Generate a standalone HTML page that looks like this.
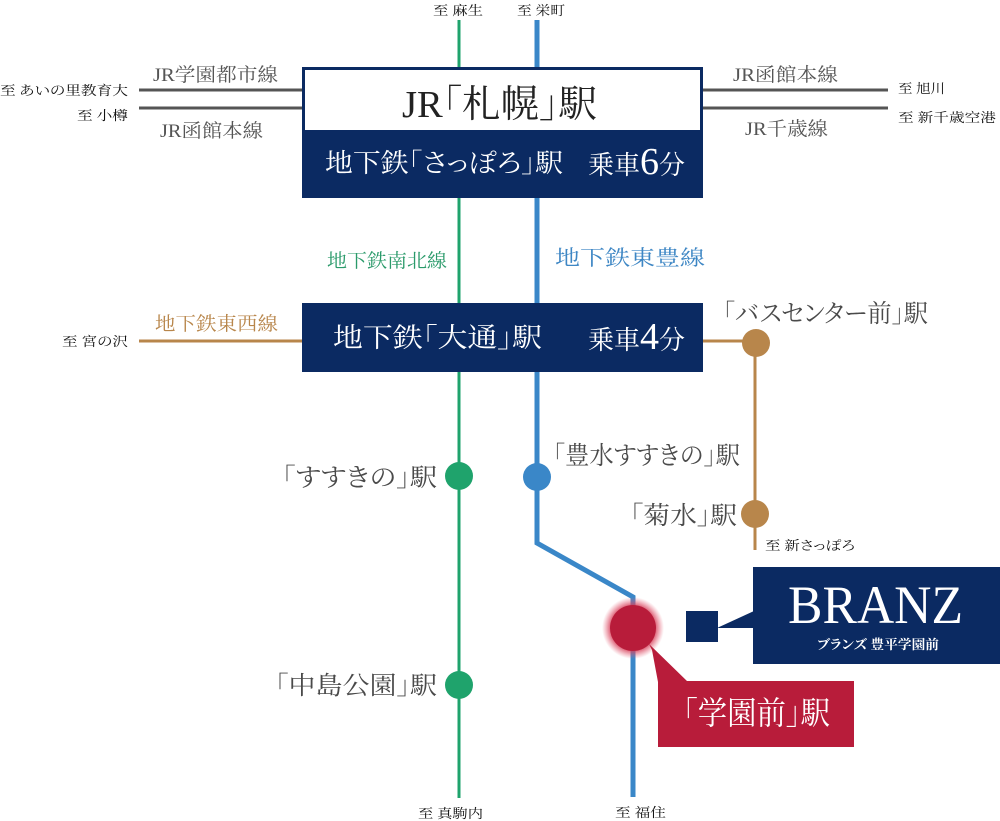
<!DOCTYPE html>
<html><head><meta charset="utf-8"><style>
html,body{margin:0;padding:0;background:#fff;}
svg{display:block;}
text{font-family:"Liberation Serif","Noto Serif CJK SC",serif;font-feature-settings:"palt";}
</style></head><body>
<svg width="1000" height="821" viewBox="0 0 1000 821" xmlns="http://www.w3.org/2000/svg">
<defs>
<radialGradient id="glow" cx="50%" cy="50%" r="50%">
<stop offset="0.7" stop-color="#d43a55" stop-opacity="0.9"/>
<stop offset="1" stop-color="#e8677c" stop-opacity="0"/>
</radialGradient>
</defs>
<!-- lines -->
<line x1="459" y1="20" x2="459" y2="798" stroke="#1fa36c" stroke-width="3"/>
<path d="M537 20 V543 L633 597 V797" fill="none" stroke="#3a87c8" stroke-width="5"/>
<g stroke="#555" stroke-width="3">
<line x1="139" y1="90" x2="302" y2="90"/>
<line x1="139" y1="108" x2="302" y2="108"/>
<line x1="703" y1="90" x2="888" y2="90"/>
<line x1="703" y1="108" x2="888" y2="108"/>
</g>
<g stroke="#b8864b" stroke-width="3" fill="none">
<line x1="139" y1="341" x2="302" y2="341"/>
<line x1="703" y1="341" x2="756" y2="341"/>
<line x1="755" y1="343" x2="755" y2="550"/>
</g>

<!-- JR box -->
<rect x="302" y="67" width="401" height="131" fill="#0b2a62"/>
<rect x="305" y="70" width="395" height="60" fill="#fff"/>
<text x="402" y="117" font-size="38" fill="#222" textLength="195" lengthAdjust="spacingAndGlyphs">JR「札幌」駅</text>
<text x="325" y="172" font-size="26" fill="#fff" textLength="238" lengthAdjust="spacingAndGlyphs">地下鉄「さっぽろ」駅</text>
<text x="588" y="174" font-size="26" fill="#fff">乗車<tspan font-size="38">6</tspan>分</text>

<!-- Odori box -->
<rect x="302" y="303" width="401" height="69" fill="#0b2a62"/>
<text x="333" y="347" font-size="27" fill="#fff" textLength="209" lengthAdjust="spacingAndGlyphs">地下鉄「大通」駅</text>
<text x="588" y="349" font-size="26" fill="#fff">乗車<tspan font-size="38">4</tspan>分</text>

<!-- top/bottom labels -->
<g font-size="13" fill="#111">
<text x="433" y="15" textLength="50" lengthAdjust="spacingAndGlyphs">至 麻生</text>
<text x="517" y="15" textLength="48" lengthAdjust="spacingAndGlyphs">至 栄町</text>
<text x="0" y="95" textLength="128" lengthAdjust="spacingAndGlyphs">至 あいの里教育大</text>
<text x="77" y="120" textLength="51" lengthAdjust="spacingAndGlyphs">至 小樽</text>
<text x="898" y="93" textLength="47" lengthAdjust="spacingAndGlyphs">至 旭川</text>
<text x="898" y="122" textLength="98" lengthAdjust="spacingAndGlyphs">至 新千歳空港</text>
<text x="62" y="346" textLength="66" lengthAdjust="spacingAndGlyphs">至 宮の沢</text>
<text x="765" y="550" textLength="90" lengthAdjust="spacingAndGlyphs">至 新さっぽろ</text>
<text x="418" y="818" textLength="65" lengthAdjust="spacingAndGlyphs">至 真駒内</text>
<text x="615" y="817" textLength="51" lengthAdjust="spacingAndGlyphs">至 福住</text>
</g>

<!-- line names -->
<g font-size="19" fill="#555">
<text x="153" y="81" textLength="125" lengthAdjust="spacingAndGlyphs">JR学園都市線</text>
<text x="160" y="137" textLength="103" lengthAdjust="spacingAndGlyphs">JR函館本線</text>
<text x="733" y="81" textLength="105" lengthAdjust="spacingAndGlyphs">JR函館本線</text>
<text x="745" y="135" textLength="83" lengthAdjust="spacingAndGlyphs">JR千歳線</text>
</g>
<text x="327" y="267" font-size="19" fill="#2a9a6a" textLength="120" lengthAdjust="spacingAndGlyphs">地下鉄南北線</text>
<text x="555" y="265" font-size="21" fill="#3d86c4" textLength="150" lengthAdjust="spacingAndGlyphs">地下鉄東豊線</text>
<text x="155" y="330" font-size="19" fill="#b8864b" textLength="123" lengthAdjust="spacingAndGlyphs">地下鉄東西線</text>

<!-- station labels -->
<g font-size="25" fill="#4a4a4a">
<text x="282" y="486" textLength="155" lengthAdjust="spacingAndGlyphs">「すすきの」駅</text>
<text x="723" y="322" textLength="205" lengthAdjust="spacingAndGlyphs">「バスセンター前」駅</text>
<text x="553" y="464" textLength="187" lengthAdjust="spacingAndGlyphs">「豊水すすきの」駅</text>
<text x="630" y="524" textLength="107" lengthAdjust="spacingAndGlyphs">「菊水」駅</text>
<text x="275" y="694" textLength="162" lengthAdjust="spacingAndGlyphs">「中島公園」駅</text>
</g>

<!-- station circles -->
<circle cx="459" cy="476" r="14" fill="#1fa36c"/>
<circle cx="459" cy="685" r="14" fill="#1fa36c"/>
<circle cx="537" cy="477" r="14" fill="#3a87c8"/>
<circle cx="756" cy="343" r="14" fill="#b8864b"/>
<circle cx="755" cy="514" r="14" fill="#b8864b"/>

<!-- Gakuenmae -->
<circle cx="633" cy="628" r="31" fill="url(#glow)"/>
<circle cx="633" cy="628" r="23" fill="#b81c3a"/>
<polygon points="649,644 688,682 658,682 652,650" fill="#b81c3a"/>
<rect x="658" y="681" width="196" height="66" fill="#b81c3a"/>
<text x="683" y="724" font-size="32" fill="#fff" textLength="147" lengthAdjust="spacingAndGlyphs">「学園前」駅</text>

<!-- BRANZ -->
<rect x="686" y="611" width="32" height="31" fill="#0b2a62"/>
<polygon points="717,628 754,611 754,628" fill="#0b2a62"/>
<rect x="753" y="567" width="247" height="97" fill="#0b2a62"/>
<text x="788" y="623" font-size="54" fill="#fff" textLength="175" lengthAdjust="spacingAndGlyphs">BRANZ</text>
<text x="817" y="649" font-size="13" font-weight="bold" fill="#fff" textLength="122" lengthAdjust="spacingAndGlyphs">ブランズ 豊平学園前</text>
</svg>
</body></html>
